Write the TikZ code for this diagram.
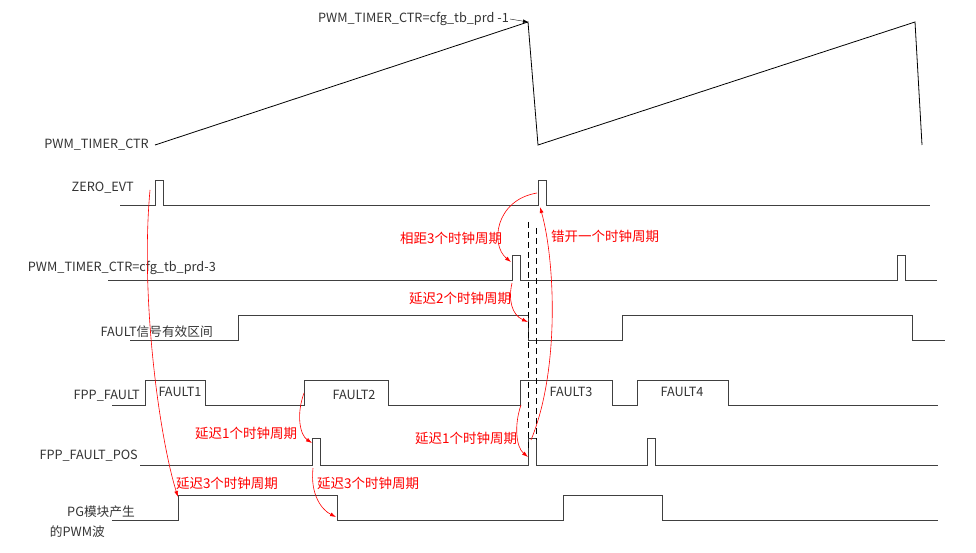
\documentclass[tikz,border=0pt]{standalone}
\usepackage{fontspec}
\setmainfont{Noto Sans CJK SC}
\usetikzlibrary{arrows.meta}
\begin{document}
\begin{tikzpicture}[x=1pt,y=-1pt,
 sig/.style={line width=0.9pt,black!75},
 lbl/.style={font=\fontsize{12.7}{14}\selectfont,text=black!80,inner sep=1pt},
 rl/.style={font=\fontsize{13.5}{15}\selectfont,text=red,inner sep=1pt},
 ra/.style={red,line width=0.6pt,-{Latex[length=6pt,width=4pt]}},
 dsh/.style={dashed,line width=0.9pt,dash pattern=on 6pt off 4pt}]
\useasboundingbox (0,0) rectangle (976,553);
% ramp
\draw[line width=0.8pt] (155,145) -- (528,22) -- (538,145) -- (915,22) -- (922,145);
\node[lbl,anchor=east] (l1) at (150,145) {PWM\_TIMER\_CTR};
\node[lbl,anchor=east] (top) at (510,19) {PWM\_TIMER\_CTR=cfg\_tb\_prd -1};
\coordinate (pk) at (528,22);
\draw[-{Latex[length=5pt]}] (top.east) -- (pk);
% ZERO_EVT
\node[lbl,anchor=east] (l2) at (135,188) {ZERO\_EVT};
\draw[sig] (120,205) -- (155,205) -- (155,180) -- (163,180) -- (163,205) -- (538,205) -- (538,180) -- (546,180) -- (546,205) -- (930,205);
% prd-3
\node[lbl,anchor=east] (l3) at (217,268) {PWM\_TIMER\_CTR=cfg\_tb\_prd-3};
\draw[sig] (108,280) -- (512,280) -- (512,255) -- (520,255) -- (520,280) -- (897,280) -- (897,255) -- (905,255) -- (905,280) -- (937,280);
% FAULT valid
\node[lbl,anchor=east] (l4) at (214,332) {FAULT信号有效区间};
\draw[sig] (130,340) -- (238,340) -- (238,315) -- (528,315) -- (528,340) -- (622,340) -- (622,315) -- (912,315) -- (912,340) -- (945,340);
% FPP_FAULT
\node[lbl,anchor=east] (l5) at (141,396) {FPP\_FAULT};
\draw[sig] (112,405) -- (145,405) -- (145,380) -- (205,380) -- (205,405) -- (304,405) -- (304,380) -- (388,380) -- (388,405) -- (520,405) -- (520,380) -- (612,380) -- (612,405) -- (637,405) -- (637,380) -- (728,380) -- (728,405) -- (938,405);
\node[lbl] (f1) at (180,392) {FAULT1};
\node[lbl] (f2) at (354,395) {FAULT2};
\node[lbl] (f3) at (571,392) {FAULT3};
\node[lbl] (f4) at (682,392) {FAULT4};
% FPP_FAULT_POS
\node[lbl,anchor=east] (l6) at (139,456) {FPP\_FAULT\_POS};
\draw[sig] (140,465) -- (312,465) -- (312,438) -- (320,438) -- (320,465) -- (528,465) -- (528,438) -- (536,438) -- (536,465) -- (647,465) -- (647,438) -- (655,438) -- (655,465) -- (938,465);
% PG
\node[lbl,anchor=east] (l7) at (136,512) {PG模块产生};
\node[lbl,anchor=east] (l8) at (106,532) {的PWM波};
\draw[sig] (112,520) -- (178,520) -- (178,495) -- (337,495) -- (337,520) -- (563,520) -- (563,495) -- (662,495) -- (662,520) -- (938,520);
% dashed
\draw[dsh] (528,222) -- (528,452);
\draw[dsh] (536,228) -- (536,440);
% red arrows
\coordinate (a1s) at (537,193); \coordinate (a1e) at (511,262);
\draw[ra] (a1s) .. controls (495,200) and (490,245) .. (a1e);
\node[rl] (t1) at (451,238) {相距3个时钟周期};
\coordinate (a2s) at (512,283); \coordinate (a2e) at (528,322);
\draw[ra] (a2s) .. controls (508,300) and (512,315) .. (a2e);
\node[rl] (t2) at (460,298) {延迟2个时钟周期};
\coordinate (a3s) at (521,405); \coordinate (a3e) at (528,457);
\draw[ra] (a3s) .. controls (514,425) and (516,447) .. (a3e);
\node[rl] (t3) at (466,438) {延迟1个时钟周期};
\coordinate (a4s) at (531,440); \coordinate (a4e) at (540,207);
\draw[ra] (a4s) .. controls (560,370) and (555,260) .. (a4e);
\node[rl] (t4) at (605,236) {错开一个时钟周期};
\coordinate (a5s) at (304,393); \coordinate (a5e) at (312,443);
\draw[ra] (a5s) .. controls (296,415) and (300,435) .. (a5e);
\node[rl] (t5) at (246,433) {延迟1个时钟周期};
\coordinate (a6s) at (150,190); \coordinate (a6e) at (178,497);
\draw[ra] (a6s) .. controls (140,300) and (160,440) .. (a6e);
\node[rl] (t6) at (227,483) {延迟3个时钟周期};
\coordinate (a7s) at (313,468); \coordinate (a7e) at (336,517);
\draw[ra] (a7s) .. controls (310,495) and (322,510) .. (a7e);
\node[rl] (t7) at (368,483) {延迟3个时钟周期};
\end{tikzpicture}
\end{document}
